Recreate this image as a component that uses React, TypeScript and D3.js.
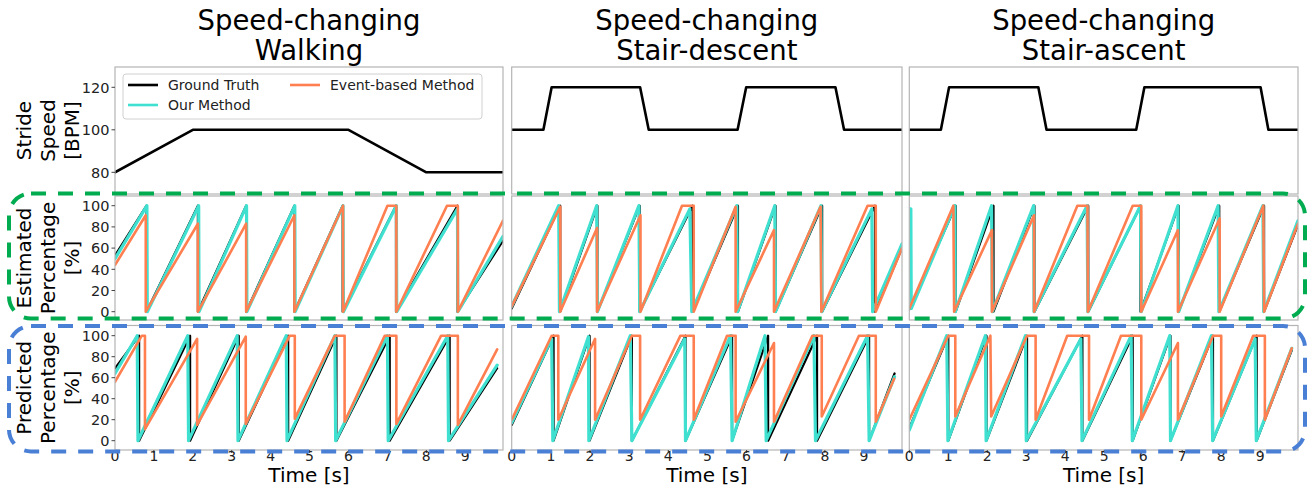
import React from "react";
import * as d3 from "d3";

type P = [number, number];

// ---------- data ----------
const columnTitles = [
  ["Speed-changing", "Walking"],
  ["Speed-changing", "Stair-descent"],
  ["Speed-changing", "Stair-ascent"],
];
const rowLabels = [
  ["Stride", "Speed", "[BPM]"],
  ["Estimated", "Percentage", "[%]"],
  ["Predicted", "Percentage", "[%]"],
];
const speedTicks = [80, 100, 120];
const pctTicks = [0, 20, 40, 60, 80, 100];
const timeTicks = [0, 1, 2, 3, 4, 5, 6, 7, 8, 9];
const legendLabels = ["Ground Truth", "Our Method", "Event-based Method"];

// stride speed (BPM)
const speedWalking: P[] = [[0, 80], [2.0, 100], [6.0, 100], [8.0, 80], [9.97, 80]];
const speedDescent: P[] = [[0, 100], [0.81, 100], [1.02, 120], [3.28, 120], [3.5, 100], [5.77, 100], [5.99, 120], [8.27, 120], [8.49, 100], [9.97, 100]];
const speedAscent: P[] = [[0, 100], [0.81, 100], [1.02, 120], [3.31, 120], [3.52, 100], [5.82, 100], [6.03, 120], [9.01, 120], [9.21, 100], [9.97, 100]];

// estimated percentage — walking
const estGTWalking: P[] = [[0, 53], [0.81, 100], [0.81, 0], [2.13, 100], [2.13, 0], [3.37, 100], [3.37, 0], [4.61, 100], [4.61, 0], [5.85, 100], [5.85, 0], [7.22, 100], [7.22, 0], [8.8, 100], [8.8, 0], [9.97, 67]];
const estOursWalking: P[] = [[0, 50], [0.82, 100], [0.83, 0], [2.15, 100], [2.16, 0], [3.38, 100], [3.39, 0], [4.62, 100], [4.63, 0], [5.86, 100], [5.87, 0], [7.23, 100], [7.24, 0], [8.8, 97], [8.81, 0], [9.97, 71]];
const estEventWalking: P[] = [[0, 44], [0.79, 91], [0.79, 0], [2.13, 83], [2.13, 0], [3.37, 83], [3.37, 0], [4.61, 91], [4.61, 0], [5.86, 100], [5.86, 0], [7.0, 100], [7.23, 100], [7.23, 0], [8.53, 100], [8.81, 100], [8.81, 0], [9.97, 86]];
// predicted percentage — walking
const predGTWalking: P[] = [[0, 69], [0.62, 100], [0.62, 0], [1.93, 100], [1.93, 0], [3.18, 100], [3.18, 0], [4.45, 100], [4.45, 0], [5.69, 100], [5.69, 0], [7.06, 100], [7.06, 0], [8.6, 100], [8.6, 0], [9.82, 69]];
const predOursWalking: P[] = [[0, 64], [0.57, 100], [0.59, 0], [1.87, 100], [1.89, 0], [3.14, 100], [3.16, 0], [4.4, 100], [4.42, 0], [5.65, 100], [5.67, 0], [7.0, 100], [7.02, 0], [8.55, 100], [8.57, 0], [9.82, 72]];
const predEventWalking: P[] = [[0, 56], [0.69, 100], [0.77, 100], [0.77, 11], [2.11, 97], [2.11, 15], [3.36, 99], [3.36, 16], [4.49, 100], [4.62, 100], [4.62, 21], [5.65, 100], [5.9, 100], [5.9, 18], [6.93, 100], [7.23, 100], [7.23, 16], [8.38, 100], [8.81, 100], [8.81, 15], [9.82, 87]];

// estimated percentage — stair descent
const estGTDescent: P[] = [[0, 3], [1.24, 100], [1.24, 0], [2.19, 100], [2.19, 0], [3.27, 100], [3.27, 0], [4.62, 100], [4.62, 0], [5.78, 100], [5.78, 0], [6.74, 100], [6.74, 0], [7.93, 100], [7.93, 0], [9.28, 100], [9.28, 0], [9.97, 60]];
const estOursDescent: P[] = [[0, 5], [1.2, 100], [1.22, 0], [2.17, 100], [2.19, 0], [3.25, 100], [3.27, 0], [4.55, 97], [4.6, 0], [5.75, 100], [5.77, 0], [6.72, 100], [6.74, 0], [7.9, 100], [7.92, 0], [9.2, 97], [9.22, 0], [9.97, 64]];
const estEventDescent: P[] = [[0, 5], [1.24, 99], [1.24, 0], [2.18, 79], [2.18, 0], [3.29, 91], [3.29, 0], [4.35, 100], [4.65, 100], [4.65, 0], [5.72, 99], [5.72, 0], [6.7, 77], [6.7, 0], [7.89, 99], [7.91, 0], [9.09, 100], [9.3, 100], [9.3, 0], [9.97, 60]];
// predicted percentage — stair descent
const predGTDescent: P[] = [[0, 15], [1.07, 100], [1.07, 0], [1.99, 100], [1.99, 0], [3.07, 100], [3.07, 0], [4.44, 100], [4.44, 0], [5.63, 100], [5.63, 0], [6.55, 100], [6.55, 0], [7.8, 100], [7.8, 0], [9.13, 100], [9.13, 0], [9.78, 64]];
const predOursDescent: P[] = [[0, 17], [1.02, 97], [1.05, 0], [1.96, 99], [1.97, 0], [3.03, 100], [3.07, 0], [4.42, 97], [4.44, 0], [5.59, 100], [5.63, 0], [6.47, 100], [6.5, 0], [7.72, 100], [7.76, 0], [9.09, 100], [9.13, 0], [9.78, 61]];
const predEventDescent: P[] = [[0, 20], [1.02, 100], [1.19, 100], [1.19, 20], [2.13, 97], [2.13, 20], [3.07, 100], [3.28, 100], [3.28, 20], [4.31, 100], [4.65, 100], [4.65, 20], [5.5, 100], [5.72, 100], [5.72, 18], [6.7, 93], [6.7, 18], [7.68, 100], [7.92, 100], [7.92, 23], [8.87, 100], [9.3, 100], [9.3, 18], [9.77, 59]];

// estimated percentage — stair ascent
const estGTAscent: P[] = [[0, 2], [1.19, 100], [1.19, 0], [2.16, 100], [2.16, 0], [3.21, 100], [3.21, 0], [4.59, 100], [4.59, 0], [5.93, 100], [5.93, 0], [6.91, 100], [6.91, 0], [7.95, 100], [7.95, 0], [9.1, 100], [9.1, 0], [9.97, 82]];
const estOursAscent: P[] = [[0, 97], [0.04, 97], [0.05, 3], [1.17, 100], [1.18, 0], [2.11, 100], [2.13, 0], [3.19, 100], [3.2, 0], [4.56, 100], [4.58, 0], [5.93, 100], [5.95, 0], [6.89, 100], [6.91, 0], [7.92, 100], [7.94, 0], [9.07, 100], [9.09, 0], [9.97, 86]];
const estEventAscent: P[] = [[0, 3], [1.13, 100], [1.15, 0], [2.12, 77], [2.12, 0], [3.2, 91], [3.2, 0], [4.31, 100], [4.57, 100], [4.58, 0], [5.73, 100], [5.95, 100], [5.95, 0], [6.89, 77], [6.89, 0], [7.96, 88], [7.96, 0], [9.08, 100], [9.1, 0], [9.97, 83]];
// predicted percentage — stair ascent
const predGTAscent: P[] = [[0, 12], [1.0, 100], [1.0, 0], [1.98, 100], [1.98, 0], [3.02, 100], [3.02, 0], [4.44, 100], [4.44, 0], [5.73, 100], [5.73, 0], [6.7, 100], [6.7, 0], [7.79, 100], [7.79, 0], [8.91, 100], [8.91, 0], [9.81, 86]];
const predOursAscent: P[] = [[0, 10], [0.96, 100], [0.99, 0], [1.95, 100], [1.97, 0], [2.98, 100], [3.0, 0], [4.4, 97], [4.43, 0], [5.69, 100], [5.72, 0], [6.68, 100], [6.7, 0], [7.75, 100], [7.78, 0], [8.87, 97], [8.9, 0], [9.81, 88]];
const predEventAscent: P[] = [[0, 20], [1.0, 100], [1.18, 100], [1.18, 23], [2.08, 100], [2.1, 23], [3.02, 100], [3.24, 100], [3.24, 20], [4.05, 100], [4.61, 100], [4.61, 20], [5.43, 100], [5.95, 100], [5.95, 20], [6.89, 93], [6.89, 20], [7.79, 100], [8.0, 100], [8.0, 23], [8.82, 100], [9.12, 100], [9.12, 20], [9.81, 88]];

const speedSeries = [speedWalking, speedDescent, speedAscent];
const estSeries = [
  [estGTWalking, estOursWalking, estEventWalking],
  [estGTDescent, estOursDescent, estEventDescent],
  [estGTAscent, estOursAscent, estEventAscent],
];
const predSeries = [
  [predGTWalking, predOursWalking, predEventWalking],
  [predGTDescent, predOursDescent, predEventDescent],
  [predGTAscent, predOursAscent, predEventAscent],
];

// ---------- layout & style ----------
const W = 1309;
const H = 497;
const FONT = "DejaVu Sans, Liberation Sans, sans-serif";
const C_GT = "#000000";
const C_OURS = "#40E0D0";
const C_EVENT = "#FF7F50";
const SPINE = "#b4b4b4";
const cols = [
  { x0: 115, x1: 503 },
  { x0: 511.7, x1: 902 },
  { x0: 909.3, x1: 1298 },
];
const rows = [
  { y0: 67, y1: 194, dom: [69.8, 129.55] },
  { y0: 196, y1: 320, dom: [-7.83, 109.15] },
  { y0: 325.5, y1: 450, dom: [-8.86, 109.7] },
];
const xDomain = [0, 9.97];

export default function App() {
  const panels: React.ReactNode[] = [];
  rows.forEach((r, ri) => {
    cols.forEach((c, ci) => {
      const x = d3.scaleLinear().domain(xDomain).range([c.x0, c.x1]);
      const y = d3.scaleLinear().domain(r.dom).range([r.y1, r.y0]);
      const line = d3
        .line<P>()
        .x((d) => x(d[0]))
        .y((d) => y(d[1]));
      const key = `p${ri}${ci}`;
      const series =
        ri === 0
          ? [{ d: speedSeries[ci], c: C_GT, w: 2.6 }]
          : (ri === 1 ? estSeries : predSeries)[ci].map((s, si) => ({
              d: s,
              c: [C_GT, C_OURS, C_EVENT][si],
              w: [2.2, 3.2, 2.6][si],
            }));
      const yt = ri === 0 ? speedTicks : pctTicks;
      panels.push(
        <g key={key}>
          <rect x={c.x0} y={r.y0} width={c.x1 - c.x0} height={r.y1 - r.y0} fill="white" />
          <clipPath id={`clip-${key}`}>
            <rect x={c.x0} y={r.y0} width={c.x1 - c.x0} height={r.y1 - r.y0} />
          </clipPath>
          <g clipPath={`url(#clip-${key})`}>
            {series.map((s, i) => (
              <path
                key={i}
                d={line(s.d) || ""}
                fill="none"
                stroke={s.c}
                strokeWidth={s.w}
                strokeLinejoin="round"
                strokeLinecap="round"
              />
            ))}
          </g>
          <rect
            x={c.x0}
            y={r.y0}
            width={c.x1 - c.x0}
            height={r.y1 - r.y0}
            fill="none"
            stroke={SPINE}
            strokeWidth={1.2}
          />
          {ci === 0 &&
            yt.map((t) => (
              <g key={t}>
                <line x1={c.x0 - 3.5} x2={c.x0} y1={y(t)} y2={y(t)} stroke="#444" strokeWidth={1} />
                <text
                  x={c.x0 - 5.5}
                  y={y(t)}
                  dy="0.36em"
                  textAnchor="end"
                  fontSize={14.5}
                  fontFamily={FONT}
                  fill="#222"
                >
                  {t}
                </text>
              </g>
            ))}
          {ri === 2 &&
            timeTicks.map((t) => (
              <g key={t}>
                <line x1={x(t)} x2={x(t)} y1={r.y1} y2={r.y1 + 3} stroke="#444" strokeWidth={1} />
                <text
                  x={x(t)}
                  y={r.y1 + 11}
                  textAnchor="middle"
                  fontSize={14}
                  fontFamily={FONT}
                  fill="#222"
                >
                  {t}
                </text>
              </g>
            ))}
        </g>
      );
    });
  });

  const legendX = 123;
  const legendY = 74;
  const legendItems = [
    { label: legendLabels[0], c: C_GT, lx: 128, ly: 85 },
    { label: legendLabels[1], c: C_OURS, lx: 128, ly: 105 },
    { label: legendLabels[2], c: C_EVENT, lx: 290, ly: 85 },
  ];

  return (
    <svg
      width={W}
      height={H}
      viewBox={`0 0 ${W} ${H}`}
      style={{ position: "absolute", left: 0, top: 0, background: "white" }}
    >
      <rect x={0} y={0} width={W} height={H} fill="white" />
      {panels}
      {/* column titles */}
      {columnTitles.map((lines, ci) => {
        const cx = (cols[ci].x0 + cols[ci].x1) / 2;
        return (
          <g key={ci}>
            {lines.map((l, li) => (
              <text
                key={li}
                x={cx}
                y={30 + li * 30}
                textAnchor="middle"
                fontSize={27.5}
                fontFamily={FONT}
                fill="#000"
              >
                {l}
              </text>
            ))}
          </g>
        );
      })}
      {/* row labels */}
      {rowLabels.map((lines, ri) => {
        const cy = (rows[ri].y0 + rows[ri].y1) / 2;
        return (
          <g key={ri}>
            {lines.map((l, li) => {
              const bx = 31 + li * 24;
              return (
                <text
                  key={li}
                  transform={`translate(${bx},${cy}) rotate(-90)`}
                  textAnchor="middle"
                  fontSize={20}
                  fontFamily={FONT}
                  fill="#000"
                >
                  {l}
                </text>
              );
            })}
          </g>
        );
      })}
      {/* x axis labels */}
      {cols.map((c, ci) => (
        <text
          key={ci}
          x={(c.x0 + c.x1) / 2}
          y={482}
          textAnchor="middle"
          fontSize={20}
          fontFamily={FONT}
          fill="#000"
        >
          Time [s]
        </text>
      ))}
      {/* legend */}
      <rect
        x={legendX}
        y={legendY}
        width={359}
        height={45}
        rx={3}
        fill="white"
        fillOpacity={0.85}
        stroke="#d0d0d0"
        strokeWidth={1}
      />
      {legendItems.map((it, i) => (
        <g key={i}>
          <line x1={it.lx} x2={it.lx + 30} y1={it.ly} y2={it.ly} stroke={it.c} strokeWidth={2.6} />
          <text x={it.lx + 40} y={it.ly} dy="0.36em" fontSize={14} fontFamily={FONT} fill="#222">
            {it.label}
          </text>
        </g>
      ))}
      {/* highlight boxes */}
      <rect
        x={9}
        y={193.5}
        width={1296}
        height={125}
        rx={22}
        fill="none"
        stroke="#00ac4f"
        strokeWidth={4}
        strokeDasharray="15 12"
      />
      <rect
        x={9}
        y={326}
        width={1296}
        height={125.5}
        rx={22}
        fill="none"
        stroke="#4a7fd6"
        strokeWidth={4}
        strokeDasharray="15 12"
      />
    </svg>
  );
}
